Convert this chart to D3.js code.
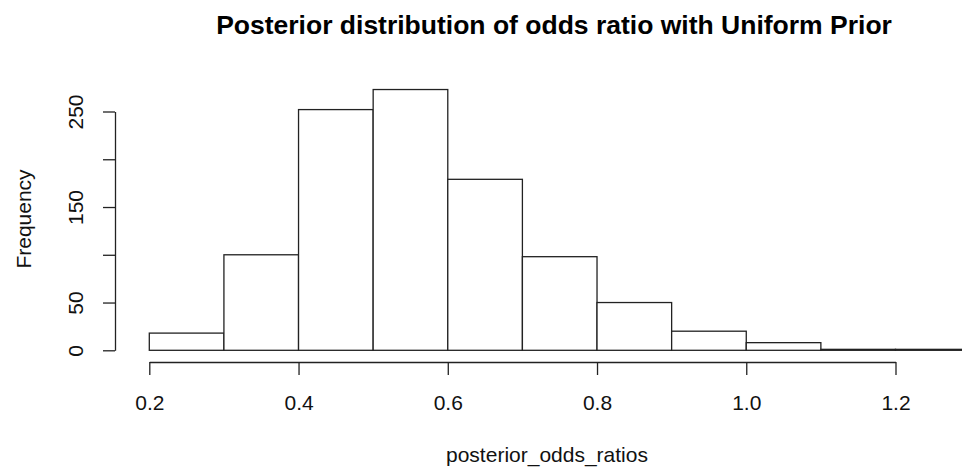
<!DOCTYPE html>
<html>
<head>
<meta charset="utf-8">
<script src="https://cdnjs.cloudflare.com/ajax/libs/d3/7.8.5/d3.min.js"></script>
<style>
  body { margin: 0; background: #fff; }
  svg { display: block; font-family: "Liberation Sans", Arial, sans-serif; }
</style>
</head>
<body>
<svg id="chart"></svg>
<script>
// histogram bins (lower edge, upper edge) and counts
const binStarts = [0.2, 0.3, 0.4, 0.5, 0.6, 0.7, 0.8, 0.9, 1.0, 1.1, 1.2];
const binEnds = [0.3, 0.4, 0.5, 0.6, 0.7, 0.8, 0.9, 1.0, 1.1, 1.2, 1.3];
const counts = [18, 100, 252, 273, 179, 98, 50, 20, 8, 1, 1];
const xTicks = [0.2, 0.4, 0.6, 0.8, 1.0, 1.2];
const yTicks = [0, 50, 100, 150, 200, 250];
const yLabels = [0, 50, 150, 250];

const W = 962, H = 468;
const ink = "#222";

const svg = d3.select("#chart").attr("width", W).attr("height", H);

const x = d3.scaleLinear().domain([0.2, 1.2]).range([149.3, 895.5]);
const y = d3.scaleLinear().domain([0, 250]).range([350.3, 111.5]);

const bins = counts.map(function (c, i) {
  return { x0: binStarts[i], x1: binEnds[i], n: c };
});

// bars
svg.selectAll(".bar")
  .data(bins)
  .enter()
  .append("rect")
  .attr("class", "bar")
  .attr("x", function (d) { return x(d.x0); })
  .attr("y", function (d) { return y(d.n); })
  .attr("width", function (d) { return x(d.x1) - x(d.x0); })
  .attr("height", function (d) { return y(0) - y(d.n); })
  .attr("fill", "#fff")
  .attr("stroke", ink)
  .attr("stroke-width", 1.3);

// x axis
const xAxis = d3.axisBottom(x)
  .tickValues(xTicks)
  .tickSize(13)
  .tickSizeOuter(0)
  .tickPadding(22)
  .tickFormat(d3.format(".1f"));

const gx = svg.append("g")
  .attr("transform", "translate(0,362)")
  .call(xAxis);
gx.select(".domain").attr("stroke", ink).attr("stroke-width", 1.3);
gx.selectAll(".tick line").attr("stroke", ink).attr("stroke-width", 1.3);
gx.selectAll(".tick text")
  .attr("fill", "#111")
  .attr("font-size", 21)
  .attr("dy", null)
  .attr("y", 48);

// y axis
const yAxis = d3.axisLeft(y)
  .tickValues(yTicks)
  .tickSize(12)
  .tickSizeOuter(0)
  .tickFormat(function (d) { return yLabels.indexOf(d) >= 0 ? d : ""; });

const gy = svg.append("g")
  .attr("transform", "translate(115,0)")
  .call(yAxis);
gy.select(".domain").attr("stroke", ink).attr("stroke-width", 1.3);
gy.selectAll(".tick line").attr("stroke", ink).attr("stroke-width", 1.3);
gy.selectAll(".tick text")
  .attr("fill", "#111")
  .attr("font-size", 21)
  .attr("x", null)
  .attr("dy", null)
  .attr("text-anchor", "middle")
  .attr("transform", "translate(-32,0) rotate(-90)");

// title and axis labels
svg.append("text")
  .attr("x", 554)
  .attr("y", 34)
  .attr("text-anchor", "middle")
  .attr("font-size", 26.5)
  .attr("font-weight", "bold")
  .attr("fill", "#000")
  .text("Posterior distribution of odds ratio with Uniform Prior");

svg.append("text")
  .attr("x", 547)
  .attr("y", 462)
  .attr("text-anchor", "middle")
  .attr("font-size", 21)
  .attr("fill", "#111")
  .text("posterior_odds_ratios");

svg.append("text")
  .attr("transform", "translate(30.5,219) rotate(-90)")
  .attr("text-anchor", "middle")
  .attr("font-size", 21)
  .attr("fill", "#111")
  .text("Frequency");
</script>
</body>
</html>
